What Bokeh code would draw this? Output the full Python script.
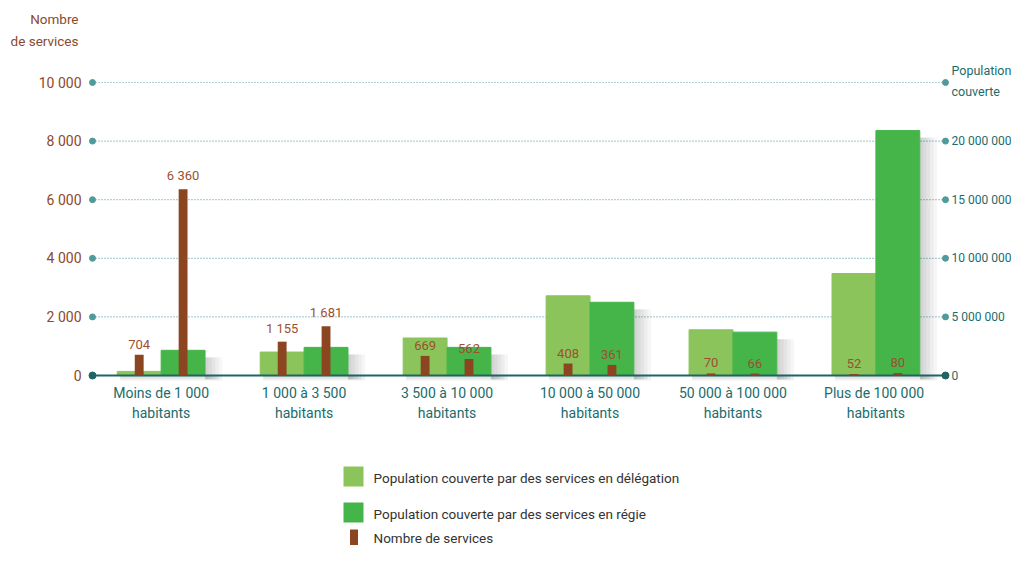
from bokeh.plotting import figure
from bokeh.models import Range1d
from bokeh.embed import file_html
from bokeh.resources import INLINE
from bokeh.core.properties import value

# ---------------- data ----------------
categories = ["Moins de 1 000\nhabitants", "1 000 à 3 500\nhabitants",
              "3 500 à 10 000\nhabitants", "10 000 à 50 000\nhabitants",
              "50 000 à 100 000\nhabitants", "Plus  de 100 000\nhabitants"]
pop_delegation = [350000, 2000000, 3200000, 6800000, 3900000, 8700000]
pop_regie = [2150000, 2400000, 2400000, 6250000, 3700000, 20900000]
services_delegation = [704, 1155, 669, 408, 70, 52]
services_regie = [6360, 1681, 562, 361, 66, 80]
left_ticks = [0, 2000, 4000, 6000, 8000, 10000]
right_ticks = [0, 5000000, 10000000, 15000000, 20000000]
left_title = ["Nombre", "de services"]
right_title = ["Population", "couverte"]
legend_labels = ["Population couverte par des services en délégation",
                 "Population couverte par des services en régie",
                 "Nombre de services"]


def fmt(v):
    return f"{v:,}".replace(",", " ")


FONT = value("Roboto")
C_LIGHT = "#8bc45a"
C_GREEN = "#45b54a"
C_BROWN = "#8b4521"
C_BROWN_TXT = "#9b5030"
C_BROWN_AX = "#8c4a2a"
C_TEAL_TXT = "#1b6c6c"
C_GRID = "#5fa6a6"
C_DOT = "#4f9a9a"
C_BASE = "#1e6464"

# ---------------- geometry (canvas = frame) ----------------
W, H = 1011, 545
PXU_X = 142.95      # pixels per category step
CAT0_CX = 160.65    # canvas x of first category
PXU_Y = 0.0293      # pixels per service
BASE_CY = 375.0     # canvas y of the zero line
RATIO = 2500        # right axis / left axis
X0, X1 = -CAT0_CX / PXU_X, (W - CAT0_CX) / PXU_X
Y0, Y1 = -(H - BASE_CY) / PXU_Y, BASE_CY / PXU_Y


def sx(px):  # canvas pixel -> x data
    return (px - CAT0_CX) / PXU_X


def sy(py):  # canvas pixel -> left-axis data
    return (BASE_CY - py) / PXU_Y


p = figure(width=W, height=H, output_backend="svg", toolbar_location=None,
           x_range=Range1d(X0, X1), y_range=Range1d(Y0, Y1), min_border=0)
p.extra_y_ranges = {"pop": Range1d(Y0 * RATIO, Y1 * RATIO)}
p.axis.visible = False
p.xgrid.visible = False
p.ygrid.visible = False
p.outline_line_color = None

BW = 0.307
idx = list(range(len(categories)))
x_del = [i - BW / 2 for i in idx]
x_reg = [i + BW / 2 for i in idx]
GX0, GX1 = sx(92), sx(945)

# gridlines
grid_y = left_ticks[1:]
p.segment(x0=[GX0] * len(grid_y), x1=[GX1] * len(grid_y), y0=grid_y, y1=grid_y,
          line_color=C_GRID, line_dash="1 2", line_width=1.2)
p.scatter(x=[GX0] * len(grid_y) + [GX1] * len(grid_y), y=grid_y + grid_y,
          size=6, color=C_DOT)

# soft shadows
for k in range(1, 6):
    p.quad(left=[i + BW for i in idx], right=[i + BW + 0.024 * k for i in idx],
           top=[v - 600000 for v in pop_regie], bottom=[-350000] * len(idx),
           y_range_name="pop", fill_color="black", fill_alpha=0.035, line_color=None)
    p.quad(left=[i - BW + 0.02 for i in idx], right=[i + BW + 0.024 * k for i in idx],
           top=[0] * len(idx), bottom=[-90000 * k] * len(idx),
           y_range_name="pop", fill_color="black", fill_alpha=0.03, line_color=None)

# population bars
p.vbar(x=x_del, top=pop_delegation, width=BW, y_range_name="pop",
       fill_color=C_LIGHT, line_color=C_LIGHT)
p.vbar(x=x_reg, top=pop_regie, width=BW, y_range_name="pop",
       fill_color=C_GREEN, line_color=C_GREEN)

# zero line
p.segment(x0=[GX0], x1=[GX1], y0=[0], y1=[0], line_color=C_BASE, line_width=2)
p.scatter(x=[GX0, GX1], y=[0, 0], size=7, color=C_BASE)

# services bars
p.vbar(x=x_del, top=services_delegation, width=0.062, fill_color=C_BROWN, line_color=None)
p.vbar(x=x_reg, top=services_regie, width=0.062, fill_color=C_BROWN, line_color=None)

# value labels
p.text(x=x_del + x_reg, y=services_delegation + services_regie,
       text=[fmt(v) for v in services_delegation + services_regie],
       text_align="center", text_baseline="bottom", y_offset=-6,
       text_font=FONT, text_font_size="13px", text_color=C_BROWN_TXT)

# left axis tick labels
p.text(x=[sx(81)] * len(left_ticks), y=left_ticks, text=[fmt(t) for t in left_ticks],
       text_align="right", text_baseline="middle",
       text_font=FONT, text_font_size="14px", text_color=C_BROWN_AX)
# right axis tick labels
p.text(x=[sx(951)] * len(right_ticks), y=right_ticks, y_range_name="pop",
       text=[fmt(t) for t in right_ticks],
       text_align="left", text_baseline="middle",
       text_font=FONT, text_font_size="12px", text_color=C_TEAL_TXT)
# category labels
p.text(x=idx, y=[sy(402.5)] * len(idx), text=categories,
       text_align="center", text_baseline="middle", text_line_height=1.3,
       text_font=FONT, text_font_size="14px", text_color=C_TEAL_TXT)

# axis titles
p.text(x=[sx(78)] * 2, y=[sy(18), sy(40)], text=left_title,
       text_align="right", text_baseline="middle",
       text_font=FONT, text_font_size="13.5px", text_color=C_BROWN_AX)
p.text(x=[sx(951)] * 2, y=[sy(70), sy(91)], text=right_title,
       text_align="left", text_baseline="middle",
       text_font=FONT, text_font_size="12.5px", text_color=C_TEAL_TXT)

# legend
p.rect(x=[sx(353)] * 2, y=[sy(476), sy(512)], width=20, height=20,
       width_units="screen", height_units="screen",
       fill_color=[C_LIGHT, C_GREEN], line_color=None)
p.rect(x=[sx(353.5)], y=[sy(538)], width=8, height=18,
       width_units="screen", height_units="screen",
       fill_color=C_BROWN, line_color=None)
p.text(x=[sx(373)] * 3, y=[sy(477), sy(513), sy(537)], text=legend_labels,
       text_align="left", text_baseline="middle",
       text_font=FONT, text_font_size="13.5px", text_color="#333333")

open("out.html", "w").write(file_html(p, INLINE))
